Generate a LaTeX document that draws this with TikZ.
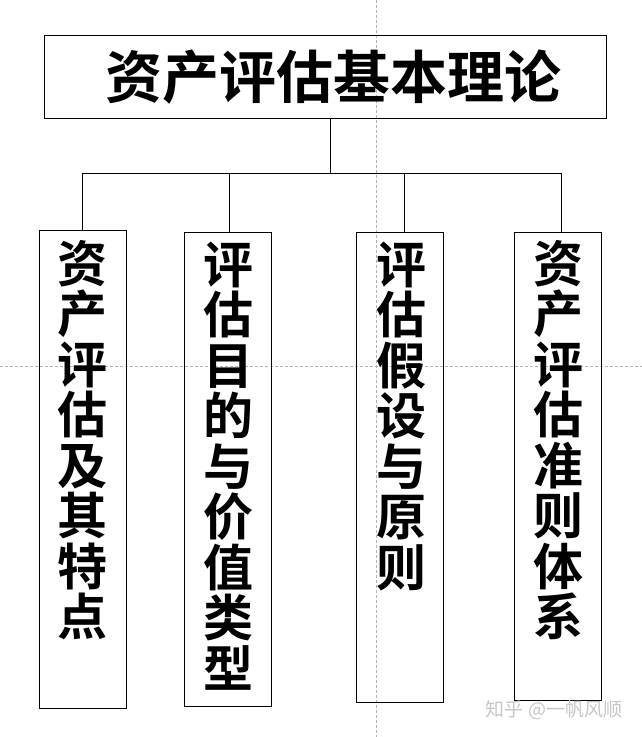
\documentclass[tikz,border=0pt]{standalone}
\usepackage{fontspec}
\newfontfamily\cjk{Noto Sans CJK SC}[BoldFont={Noto Sans CJK SC Bold}]
\tikzset{
  box/.style={draw,line width=0.8pt,inner sep=0pt},
  leaf/.style={box,minimum width=87pt},
  vtext/.style={anchor=north,inner sep=0pt,align=center,
    font=\cjk\bfseries\fontsize{50}{50.5}\selectfont},
  guide/.style={gray!60,line width=0.6pt,dash pattern=on 3pt off 2pt}
}
\begin{document}
\begin{tikzpicture}[x=1pt,y=-1pt]
        \useasboundingbox (0,0) rectangle (642,737);
        % guide lines
        \draw[guide] (376.7,0) -- (376.7,737);
        \draw[guide] (0,366.7) -- (642,366.7);
        % boxes
        \node[box,minimum width=561.7pt,minimum height=83.3pt,
          font=\cjk\bfseries\fontsize{57}{60}\selectfont] (theory) at (325.2,76.7) {\hspace*{16pt}资产评估基本理论};
        \node[leaf,minimum height=478.3pt] (feature) at (83,469.2) {};
        \node[leaf,minimum height=473.3pt] (purpose) at (228,469.3) {};
        \node[leaf,minimum height=469.3pt] (assume) at (400.2,467.3) {};
        \node[leaf,minimum height=467.3pt] (standard) at (558,466.3) {};
        \node[vtext] (featuretext) at (82.5,240) {资\\产\\评\\估\\及\\其\\特\\点};
        \node[vtext] (purposetext) at (228,241.7) {评\\估\\目\\的\\与\\价\\值\\类\\型};
        \node[vtext] (assumetext) at (401,241.7) {评\\估\\假\\设\\与\\原\\则};
        \node[vtext] (standardtext) at (558,240) {资\\产\\评\\估\\准\\则\\体\\系};
        % connectors
        \coordinate (bus) at (330.7,173.3);
        \draw[line width=0.8pt] (theory.south -| bus) -- (bus);
        \draw[line width=0.8pt] ([xshift=-1pt]feature.north) |- (bus);
        \draw[line width=0.8pt] ([xshift=1.5pt]purpose.north) -- ([xshift=1.5pt]purpose.north |- bus);
        \draw[line width=0.8pt] ([xshift=4.3pt]assume.north) |- (bus);
        \draw[line width=0.8pt] ([xshift=3pt]standard.north) |- (bus);
        % watermark
        \node[text=gray!45,font=\cjk\fontsize{19}{20}\selectfont,inner sep=0pt] (mark) at (554,710) {知乎 @一帆风顺};
\end{tikzpicture}
\end{document}
